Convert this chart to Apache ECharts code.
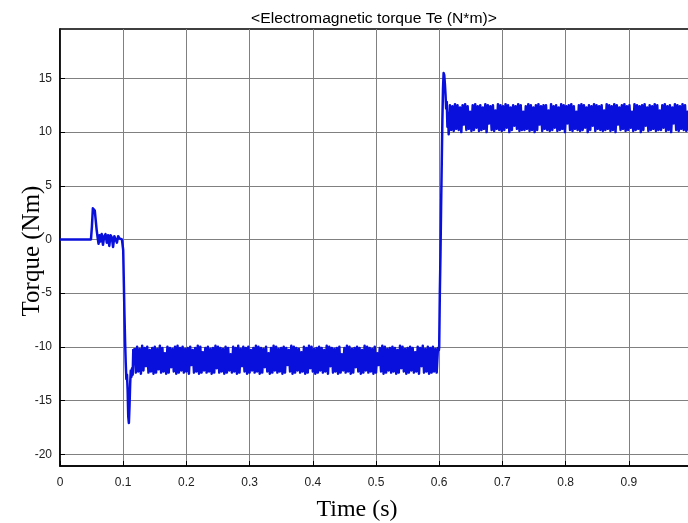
<!DOCTYPE html>
<html>
<head>
<meta charset="utf-8">
<script src="https://cdn.jsdelivr.net/npm/echarts@6/dist/echarts.min.js"></script>
<style>html,body{margin:0;padding:0;background:#fff}#c{width:688px;height:523px}</style>
</head>
<body>
<div id="c"></div>
<script>
// ---- data ----
const titleText = '<Electromagnetic torque Te (N*m)>';
const xTitle = 'Time (s)';
const yTitle = 'Torque (Nm)';
const yTicks = [-20, -15, -10, -5, 0, 5, 10, 15];

// start-up transient: [time (s), torque (Nm)]
const startT = [0, 0.049, 0.0505, 0.052, 0.0535, 0.055, 0.0565, 0.058, 0.0595, 0.061, 0.0625, 0.064, 0.066, 0.068, 0.070, 0.072, 0.074, 0.076, 0.078, 0.080, 0.082, 0.084, 0.086, 0.088, 0.090, 0.092, 0.094, 0.096, 0.098, 0.100, 0.101, 0.102, 0.103, 0.104, 0.105, 0.106, 0.107, 0.108, 0.109, 0.110, 0.111, 0.112, 0.113, 0.114, 0.115, 0.116, 0.117];
const startV = [0, 0, 1.2, 2.9, 3.0, 2.7, 1.8, 0.9, 0.2, -0.4, 0.4, -0.2, 0.5, -0.5, 0.3, 0.5, -0.3, 0.4, -0.6, 0.4, 0.2, -0.7, 0.3, 0.4, -0.3, 0.3, 0.1, 0.2, 0.0, -1.0, -4.0, -7.0, -9.5, -11.5, -13.0, -12.6, -14.0, -16.5, -17.1, -15.5, -13.5, -12.2, -12.8, -12.0, -12.6, -10.2];

// steady ripple around -11 Nm, sampled every bandDt from band1Start
const bandDt = 0.002;
const band1Start = 0.118;
const band1 = [
-10.1,-12.4,-10.0,-12.3,-10.2,-12.5,-9.9,-12.2,-10.1,-11.8,-10.0,-12.4,-10.3,-12.3,-10.1,-12.5,-10.0,-12.4,-10.2,-12.1,
-9.9,-12.4,-10.1,-12.3,-10.6,-12.5,-10.0,-12.4,-10.1,-11.9,-10.2,-12.3,-10.0,-12.5,-9.9,-12.4,-10.1,-12.2,-10.0,-12.4,
-10.2,-12.3,-10.1,-12.5,-10.0,-11.7,-10.3,-12.4,-10.1,-12.3,-9.9,-12.5,-10.0,-12.4,-10.5,-12.2,-10.1,-12.4,-10.0,-12.3,
-10.2,-12.5,-10.1,-12.4,-9.9,-12.0,-10.0,-12.4,-10.1,-12.3,-10.2,-12.5,-10.0,-12.4,-10.1,-12.2,-10.7,-12.4,-10.0,-12.3,
-10.1,-12.5,-9.9,-12.4,-10.2,-11.8,-10.0,-12.3,-10.1,-12.5,-10.0,-12.4,-10.3,-12.2,-10.1,-12.4,-9.9,-12.3,-10.0,-12.5,
-10.1,-12.4,-10.2,-11.9,-10.0,-12.3,-10.6,-12.5,-10.1,-12.4,-9.9,-12.2,-10.0,-12.4,-10.2,-12.3,-10.1,-12.5,-10.0,-12.4,
-10.1,-11.7,-10.3,-12.3,-9.9,-12.5,-10.0,-12.4,-10.1,-12.2,-10.2,-12.4,-10.5,-12.3,-10.0,-12.5,-10.1,-12.4,-9.9,-12.0,
-10.0,-12.3,-10.2,-12.5,-10.1,-12.4,-10.0,-12.2,-10.1,-12.4,-10.3,-12.3,-9.9,-12.5,-10.0,-11.8,-10.1,-12.4,-10.2,-12.3,
-10.1,-12.5,-10.0,-12.4,-10.7,-12.2,-10.1,-12.4,-9.9,-12.3,-10.0,-12.5,-10.2,-12.4,-10.1,-11.9,-10.0,-12.3,-10.1,-12.5,
-10.3,-12.4,-9.9,-12.2,-10.0,-12.4,-10.1,-12.3,-10.2,-12.5,-10.0,-12.4,-10.6,-11.7,-10.1,-12.3,-9.9,-12.5,-10.0,-12.4,
-10.2,-12.2,-10.1,-12.4,-10.0,-12.3,-10.1,-12.5,-10.3,-12.4,-9.9,-12.0,-10.0,-12.3,-10.2,-12.5,-10.1,-12.4,-10.0,-12.2,
-10.1,-12.4,-10.5,-12.3,-10.0,-12.5,-10.1,-11.8,-9.9,-12.4,-10.2,-12.3,-10.0,-12.5,-10.1,-12.4,-10.0,-12.3,-10.2,-12.4,
-10.1];

// load step transient at 0.6 s: [time (s), torque (Nm)]
const stepT = [0.5995, 0.600, 0.601, 0.602, 0.603, 0.604, 0.605, 0.606, 0.607, 0.608, 0.609, 0.610, 0.611, 0.612, 0.613, 0.614, 0.615];
const stepV = [-10.3, -10.0, -5.0, -1.5, 3.0, 7.0, 11.0, 14.0, 15.5, 15.3, 14.5, 13.5, 12.2, 12.8, 10.5, 11.8, 9.8];

// steady ripple around +11 Nm
const band2Start = 0.617;
const band2 = [
12.5,10.2,12.4,10.1,12.6,10.3,12.5,10.2,12.3,10.0,12.5,10.7,12.6,10.2,12.4,10.3,11.9,10.1,12.5,10.2,
12.6,10.4,12.4,10.1,12.5,10.2,12.3,10.3,12.6,10.0,12.5,10.8,12.4,10.2,12.5,10.1,12.0,10.3,12.6,10.2,
12.5,10.1,12.4,10.2,12.6,10.4,12.5,10.0,12.3,10.2,12.5,10.6,12.4,10.3,12.6,10.1,12.5,10.2,11.9,10.2,
12.4,10.3,12.6,10.1,12.5,10.2,12.3,10.0,12.5,10.2,12.6,10.7,12.4,10.1,12.5,10.3,12.5,10.2,12.0,10.1,
12.6,10.2,12.4,10.4,12.5,10.1,12.3,10.2,12.6,10.3,12.5,10.0,12.4,10.8,12.5,10.2,12.6,10.1,12.4,10.3,
11.9,10.2,12.5,10.1,12.6,10.2,12.5,10.4,12.3,10.0,12.5,10.2,12.4,10.6,12.6,10.1,12.5,10.3,12.4,10.2,
12.5,10.1,12.0,10.2,12.6,10.3,12.5,10.1,12.4,10.2,12.6,10.0,12.5,10.7,12.3,10.2,12.5,10.3,12.6,10.1,
12.4,10.2,12.5,10.4,11.9,10.1,12.6,10.2,12.5,10.3,12.4,10.0,12.5,10.2,12.6,10.6,12.3,10.1,12.5,10.2,
12.4,10.3,12.6,10.1,12.5,10.2,12.0,10.2,12.5,10.4,12.6,10.1,12.4,10.2,12.5,10.0,12.3,10.8,12.6,10.2,
12.5,10.1,12.4,10.3,12.6,10.2,12.5,10.1,11.9,10.2,12.5,10.3];

// ---- build series ----
const pts = [];
startT.forEach((t, i) => pts.push([t, startV[i]]));
band1.forEach((v, i) => pts.push([+(band1Start + i * bandDt).toFixed(4), v]));
stepT.forEach((t, i) => pts.push([t, stepV[i]]));
band2.forEach((v, i) => pts.push([+(band2Start + i * bandDt).toFixed(4), v]));

const chart = echarts.init(document.getElementById('c'), null, {renderer: 'canvas'});
chart.setOption({
  animation: false,
  backgroundColor: '#ffffff',
  grid: {left: 60, top: 29, width: 632, height: 437, show: true, borderColor: '#000', borderWidth: 1.5,
         backgroundColor: 'transparent', containLabel: false, outerBoundsMode: 'none'},
  graphic: [
    {type: 'text', x: 374, y: 19, scaleX: 1.12,
     style: {text: titleText, fontFamily: 'Liberation Sans, Arial, sans-serif', fontSize: 14, fill: '#000', textAlign: 'center', textVerticalAlign: 'middle'}},
    {type: 'text', x: 357, y: 510,
     style: {text: xTitle, fontFamily: 'Liberation Serif, Times New Roman, serif', fontSize: 24, fill: '#000', textAlign: 'center', textVerticalAlign: 'middle'}},
    {type: 'text', x: 32, y: 251, rotation: Math.PI / 2,
     style: {text: yTitle, fontFamily: 'Liberation Serif, Times New Roman, serif', fontSize: 25, fill: '#000', textAlign: 'center', textVerticalAlign: 'middle'}}
  ],
  xAxis: {
    type: 'value', min: 0, max: 1, interval: 0.1,
    axisLine: {show: true, onZero: false, lineStyle: {color: '#000', width: 1.5}},
    axisTick: {show: true, inside: true, length: 5, lineStyle: {color: '#000'}},
    axisLabel: {margin: 11, color: '#222', fontSize: 12, fontFamily: 'Liberation Sans, Arial, sans-serif',
      formatter: v => (Math.round(v * 10) / 10).toString()},
    splitLine: {show: true, lineStyle: {color: '#808080', width: 1}}
  },
  yAxis: {
    type: 'value', min: -21.1, max: 19.6,
    axisLine: {show: true, lineStyle: {color: '#000', width: 1.5}},
    axisTick: {show: true, inside: true, length: 5, customValues: yTicks, lineStyle: {color: '#000'}},
    axisLabel: {margin: 8, color: '#222', fontSize: 12, fontFamily: 'Liberation Sans, Arial, sans-serif', customValues: yTicks},
    splitLine: {show: true, lineStyle: {color: '#808080', width: 1}}
  },
  series: [{
    type: 'line', data: pts, showSymbol: false, symbol: 'none',
    lineStyle: {color: '#0a10dc', width: 2.5, join: 'round'},
    clip: true
  }]
});
</script>
</body>
</html>
